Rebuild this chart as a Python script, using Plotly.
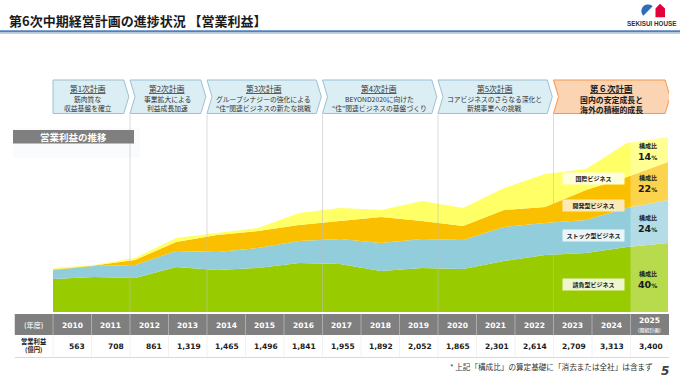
import math
import plotly.graph_objects as go

W, H = 680, 378
JP = "Noto Sans CJK JP"
NUM = "DejaVu Sans"

# ---------------- data ----------------
years = list(range(2010, 2026))
# segment operating profit (approx., 億円) read from the stacked areas
ukeoi = [660, 700, 680, 900, 840, 880, 980, 960, 820, 880, 860, 1020, 1140, 1180, 1300, 1380]
stock = [180, 220, 260, 320, 360, 400, 440, 500, 560, 580, 580, 680, 640, 660, 780, 860]
kaihatsu = [10, 10, 100, 180, 340, 340, 320, 360, 520, 360, 280, 340, 320, 600, 620, 760]
kokusai = [30, 10, 40, 80, 40, 60, 240, 260, 140, 400, 360, 440, 660, 420, 680, 500]

seg_names = ["請負型ビジネス", "ストック型ビジネス", "開発型ビジネス", "国際ビジネス"]
seg_values = [ukeoi, stock, kaihatsu, kokusai]
seg_colors = ["#99CC00", "#92CDDC", "#FAC000", "#FFFF66"]
seg_label_bg = ["#EEF6CF", "#EAF5F9", "#FCE9B8", "#FFFFDD"]
seg_share = ["40", "24", "22", "14"]

table_years = [str(y) for y in years]
op_profit = [563, 708, 861, 1319, 1465, 1496, 1841, 1955, 1892, 2052, 1865, 2301, 2614, 2709, 3313, 3400]

plan_titles = ["第1次計画", "第2次計画", "第3次計画", "第4次計画", "第5次計画", "第６次計画"]
plan_line1 = ["筋肉質な", "事業拡大による", "グループシナジーの強化による", "BEYOND2020に向けた",
              "コアビジネスのさらなる深化と", "国内の安定成長と"]
plan_line2 = ["収益基盤を確立", "利益成長加速", "“住”関連ビジネスの新たな挑戦", "“住”関連ビジネスの基盤づくり",
              "新規事業への挑戦", "海外の積極的成長"]
plan_start = [2010, 2012, 2014, 2017, 2020, 2023]
plan_end = [2011, 2013, 2016, 2019, 2022, 2025]


def X(px):
    return px / W


def Y(py):
    return 1 - py / H


def col(year):
    # table column index on x2 (label column = 0, 2010 = 1 ...)
    return year - 2009


fig = go.Figure()

for name, vals, c in zip(seg_names, seg_values, seg_colors):
    fig.add_trace(go.Scatter(x=years, y=vals, name=name, stackgroup="seg", mode="lines",
                             line=dict(width=0, color=c), fillcolor=c, hoverinfo="skip"))

# helper trace for the table / plan axis
fig.add_trace(go.Scatter(x=list(range(17)), y=[0] * 17, xaxis="x2", yaxis="y2", mode="markers",
                         marker=dict(opacity=0), hoverinfo="skip", showlegend=False))

shapes = []
ann = []


def A(text, x, y, xref="paper", yref="paper", size=7, color="#1a1a1a", family=JP, xanchor="center",
      yanchor="middle", **kw):
    ann.append(dict(text=text, x=x, y=y, xref=xref, yref=yref, xanchor=xanchor, yanchor=yanchor,
                    showarrow=False, font=dict(family=family, size=size, color=color), **kw))


# ---------------- header ----------------
A("<b>第6次中期経営計画の進捗状況 【営業利益】</b>", X(7), Y(20), size=13, xanchor="left")
shapes.append(dict(type="rect", xref="paper", yref="paper", x0=0, x1=1, y0=Y(32.6), y1=Y(30.2),
                   fillcolor="#4F81BD", line=dict(width=0)))
shapes.append(dict(type="rect", xref="paper", yref="paper", x0=0, x1=1, y0=Y(34), y1=Y(32.6),
                   fillcolor="#C8CED6", line=dict(width=0)))

# logo
cx, cy, r = 648.0, 11.0, 6.6
pts = []
for k in range(0, 37):
    th = math.radians(45 + 180 * k / 36)
    pts.append((cx + r * math.cos(th), cy - r * math.sin(th)))
path = "M " + " L ".join(f"{X(px):.5f},{Y(py):.5f}" for px, py in pts) + " Z"
shapes.append(dict(type="path", xref="paper", yref="paper", path=path, fillcolor="#2E6DB8", line=dict(width=0)))
house = [(655.5, 8.5), (660, 3.8), (665, 8.5), (665, 17.2), (655.5, 17.2)]
path = "M " + " L ".join(f"{X(px):.5f},{Y(py):.5f}" for px, py in house) + " Z"
shapes.append(dict(type="path", xref="paper", yref="paper", path=path, fillcolor="#E4003A", line=dict(width=0)))
A("<b>SEKISUI HOUSE</b>", X(651.5), Y(23.5), size=6.3, color="#333333", family="Liberation Sans")

# ---------------- plan chevrons ----------------
d = 5 / 38.5
g = 1.2 / 38.5
top, bot = 80, 113.5
mid = (top + bot) / 2
for i in range(len(plan_titles)):
    x0 = col(plan_start[i]) - 0.5
    x1 = col(plan_end[i]) + 0.5
    if i == 5:
        x1 += 0.06
    p = [(x0, top), (x1 - d - g, top), (x1 - g, mid), (x1 - d - g, bot), (x0, bot)]
    if i > 0:
        p.append((x0 + d, mid))
    path = "M " + " L ".join(f"{a:.4f},{Y(b):.5f}" for a, b in p) + " Z"
    last = i == 5
    shapes.append(dict(type="path", xref="x2", yref="paper", path=path,
                       fillcolor="#FBD4B4" if last else "#DBEEF4",
                       line=dict(color="#F79646" if last else "#9CC0D3", width=1)))
    cxx = (x0 + x1 - d) / 2 + (d / 2 if i > 0 else 0) - g
    if last:
        A(f"<b><u>{plan_titles[i]}</u></b>", cxx, Y(88), xref="x2", size=8.5)
        A(f"<b>{plan_line1[i]}</b>", cxx, Y(99.5), xref="x2", size=7.9)
        A(f"<b>{plan_line2[i]}</b>", cxx, Y(110), xref="x2", size=7.9)
    else:
        A(f"<u>{plan_titles[i]}</u>", cxx, Y(88), xref="x2", size=7.8, color="#333333")
        A(plan_line1[i], cxx, Y(99), xref="x2", size=6.8, color="#333333")
        A(plan_line2[i], cxx, Y(108), xref="x2", size=6.8, color="#333333")
    if i > 0:
        shapes.append(dict(type="line", xref="x2", yref="paper", x0=x0, x1=x0, y0=Y(bot + 1), y1=Y(312),
                           line=dict(color="rgba(190,190,190,0.55)", width=1), layer="above"))

# ---------------- chart label box ----------------
shapes.append(dict(type="rect", xref="paper", yref="paper", x0=X(13), x1=X(140), y0=Y(158), y1=Y(128),
                   fillcolor="rgba(236,241,246,0.25)", line=dict(width=0), layer="below"))
shapes.append(dict(type="rect", xref="paper", yref="paper", x0=X(13), x1=X(134), y0=Y(143.5), y1=Y(130),
                   fillcolor="#7F7F7F", line=dict(width=0)))
A("<b>営業利益の推移</b>", X(73.5), Y(137), size=9.5, color="white")

# 2025 plan overlay (lighter column)
shapes.append(dict(type="rect", xref="x2", yref="paper", x0=15.5, x1=16.5, y0=Y(312.5), y1=Y(125),
                   fillcolor="rgba(255,255,255,0.3)", line=dict(width=0), layer="above"))

# segment labels
label_py = [284, 235, 205, 178]
for name, bg, py in zip(seg_names, seg_label_bg, label_py):
    A(f"<b>{name}</b>", X(593), Y(py), size=6, color="#222222", bgcolor=bg, width=59, height=9)

# composition ratios at 2025
cum = 0
for vals, share in zip(seg_values, seg_share):
    midv = cum + vals[-1] / 2
    cum += vals[-1]
    A("<b>構成比</b>", 2024.5, midv, xref="x", yref="y", size=6, color="#222222", yshift=4)
    A(f"<b>{share}<span style='font-size:6px'>%</span></b>", 2024.5, midv, xref="x", yref="y",
      size=9.5, family=NUM, yshift=-7)

# ---------------- table ----------------
shapes.append(dict(type="rect", xref="x2", yref="paper", x0=-0.5, x1=16.5, y0=Y(335), y1=Y(314),
                   fillcolor="#7F7F7F", line=dict(width=0)))
for k in range(16):
    shapes.append(dict(type="line", xref="x2", yref="paper", x0=k + 0.5, x1=k + 0.5, y0=Y(335), y1=Y(314),
                       line=dict(color="rgba(255,255,255,0.35)", width=1)))
    shapes.append(dict(type="line", xref="x2", yref="paper", x0=k + 0.5, x1=k + 0.5, y0=Y(357), y1=Y(335),
                       line=dict(color="#F2F2F2", width=1)))
shapes.append(dict(type="line", xref="x2", yref="paper", x0=-0.5, x1=16.5, y0=Y(357.5), y1=Y(357.5),
                   line=dict(color="#D9D9D9", width=1)))

A("<b>(年度)</b>", 0, Y(325), xref="x2", size=7, color="#E8E8E8")
A("<b>営業利益</b>", 0, Y(341), xref="x2", size=6.3)
A("<b>(億円)</b>", 0, Y(349), xref="x2", size=6.3)
for i, (yl, v) in enumerate(zip(table_years, op_profit)):
    k = i + 1
    if i == len(table_years) - 1:
        A(f"<b>{yl}</b>", k, Y(320.5), xref="x2", size=7.5, color="white", family=NUM)
        A("<b>(期初計画)</b>", k, Y(329.5), xref="x2", size=4.8, color="#E8E8E8")
    else:
        A(f"<b>{yl}</b>", k, Y(325), xref="x2", size=7.5, color="white", family=NUM)
    A(f"<b>{v:,}</b>", k + 0.5 - 0.11, Y(346.5), xref="x2", size=7.5, family=NUM, xanchor="right")

# footnote / page number
A("* 上記「構成比」の算定基礎に「消去または全社」は含まず", X(655), Y(366), size=7.6, color="#333333",
  xanchor="right")
A("<b><i>5</i></b>", X(665), Y(371), size=12, color="#404040", family=NUM)

fig.update_layout(
    width=W, height=H, autosize=False,
    margin=dict(l=0, r=0, t=0, b=0),
    paper_bgcolor="white", plot_bgcolor="rgba(0,0,0,0)",
    showlegend=False,
    xaxis=dict(domain=[X(53), X(668)], range=[2010, 2025], visible=False, fixedrange=True),
    yaxis=dict(domain=[Y(312), Y(112)], range=[0, 4000], visible=False, fixedrange=True),
    xaxis2=dict(domain=[X(14.5), X(669)], range=[-0.5, 16.5], visible=False, anchor="y2", fixedrange=True),
    yaxis2=dict(domain=[0, 0.05], range=[0, 1], visible=False, anchor="x2", fixedrange=True),
    shapes=shapes,
    annotations=ann,
)

fig.write_html("out.html", config={"displayModeBar": False, "staticPlot": True},
               post_script="document.body.style.margin='0';document.body.style.overflow='hidden';")
